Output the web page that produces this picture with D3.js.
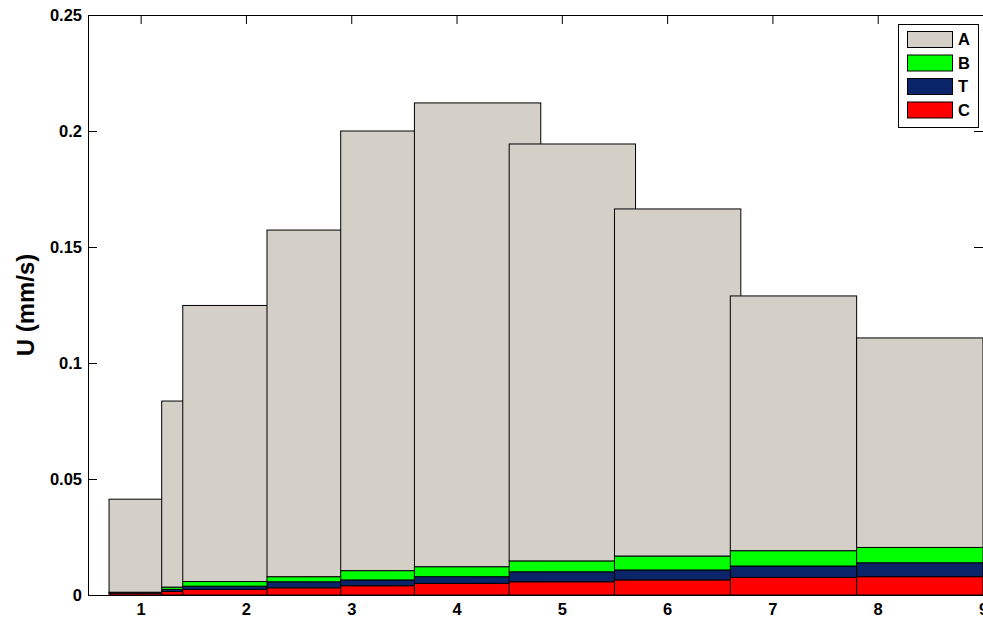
<!DOCTYPE html>
<html>
<head>
<meta charset="utf-8">
<script src="https://cdn.jsdelivr.net/npm/d3@7"></script>
<style>
  body { margin: 0; background: #fff; }
  text { font-family: Arial, "Liberation Sans", sans-serif; font-weight: bold; }
</style>
</head>
<body>
<svg id="chart" width="983" height="619"></svg>
<script>
// bar centres along x (bars are 1.2 wide, so neighbours overlap)
var xPos = [1.3, 1.8, 2.0, 2.8, 3.5, 4.2, 5.1, 6.1, 7.2, 8.4];
var barWidth = 1.2;

// stacked segments, bottom to top
var C = [0.0008, 0.0015, 0.0024, 0.0031, 0.0040, 0.0050, 0.0057, 0.0065, 0.0076, 0.0079];
var T = [0.0002, 0.0009, 0.0014, 0.0026, 0.0025, 0.0029, 0.0043, 0.0043, 0.0049, 0.0060];
var B = [0.0002, 0.0010, 0.0020, 0.0022, 0.0040, 0.0043, 0.0047, 0.0060, 0.0066, 0.0066];
var A = [0.0401, 0.0802, 0.1190, 0.1494, 0.1895, 0.1999, 0.1797, 0.1496, 0.1098, 0.0903];

var stackOrder = ["C", "T", "B", "A"];
var legendOrder = ["A", "B", "T", "C"];
var colours = {A: "#d4d0c8", B: "#00ff00", T: "#0a246a", C: "#ff0000"};

var xTicks = [1, 2, 3, 4, 5, 6, 7, 8, 9];
var yTicks = [0, 0.05, 0.1, 0.15, 0.2, 0.25];
var yLabels = ["0", "0.05", "0.1", "0.15", "0.2", "0.25"];

function drawChart() {
  var svg = d3.select("#chart"),
      pLeft = 88, pRight = 983, pTop = 15, pBottom = 595;

  var x = d3.scaleLinear().domain([0.5, 9]).range([pLeft, pRight]),
      y = d3.scaleLinear().domain([0, 0.25]).range([pBottom, pTop]);

  var values = {A: A, B: B, T: T, C: C};
  var rows = xPos.map(function(xp, i) {
    var r = {x: xp};
    stackOrder.forEach(function(k) { r[k] = values[k][i]; });
    return r;
  });
  var stacked = d3.stack().keys(stackOrder)(rows);

  // ticks go under the bars (MATLAB layer = bottom)
  var yAxis = svg.append("g")
      .attr("transform", "translate(" + pLeft + ",0)")
      .call(d3.axisLeft(y).tickValues(yTicks).tickSize(-9).tickPadding(6)
        .tickFormat(function(d, i) { return yLabels[i]; }));
  var yAxisR = svg.append("g")
      .attr("transform", "translate(" + pRight + ",0)")
      .call(d3.axisRight(y).tickValues(yTicks).tickSize(-9).tickFormat(""));
  var xAxis = svg.append("g")
      .attr("transform", "translate(0," + pBottom + ")")
      .call(d3.axisBottom(x).tickValues(xTicks).tickSize(-9).tickPadding(8)
        .tickFormat(d3.format("d")));
  var xAxisT = svg.append("g")
      .attr("transform", "translate(0," + pTop + ")")
      .call(d3.axisTop(x).tickValues(xTicks).tickSize(-9).tickFormat(""));

  [yAxis, yAxisR, xAxis, xAxisT].forEach(function(a) {
    a.select(".domain").remove();
    a.selectAll(".tick line").attr("stroke", "#000");
    a.selectAll(".tick text")
      .attr("fill", "#000")
      .style("font-size", "16.5px")
      .style("font-family", "Arial, 'Liberation Sans', sans-serif");
  });

  // bars drawn group by group so later ones cover earlier ones
  var bars = svg.append("g");
  rows.forEach(function(r, i) {
    var grp = bars.append("g");
    stacked.forEach(function(s) {
      grp.append("rect")
        .attr("x", x(r.x - barWidth / 2))
        .attr("width", x(r.x + barWidth / 2) - x(r.x - barWidth / 2))
        .attr("y", y(s[i][1]))
        .attr("height", y(s[i][0]) - y(s[i][1]))
        .attr("fill", colours[s.key])
        .attr("stroke", "#000")
        .attr("stroke-width", 1);
    });
  });

  // axes box on top
  svg.append("rect")
      .attr("x", pLeft + 0.5).attr("y", pTop + 0.5)
      .attr("width", pRight - pLeft).attr("height", pBottom - pTop)
      .attr("fill", "none").attr("stroke", "#000").attr("stroke-width", 1);

  svg.append("text")
      .attr("transform", "translate(34," + (pTop + pBottom) / 2 + ") rotate(-90)")
      .attr("text-anchor", "middle")
      .style("font-size", "24px")
      .text("U (mm/s)");

  // legend
  var lg = svg.append("g").attr("transform", "translate(898,24)");
  lg.append("rect")
      .attr("x", 0.5).attr("y", 0.5).attr("width", 80).attr("height", 103)
      .attr("fill", "#fff").attr("stroke", "#000");
  var item = lg.selectAll(".item")
      .data(legendOrder)
    .enter().append("g")
      .attr("class", "item")
      .attr("transform", function(d, i) { return "translate(0," + (15.5 + i * 23.5) + ")"; });
  item.append("rect")
      .attr("x", 9.5).attr("y", -8).attr("width", 45).attr("height", 16)
      .attr("fill", function(d) { return colours[d]; })
      .attr("stroke", "#000");
  item.append("text")
      .attr("x", 60).attr("dy", "0.36em")
      .style("font-size", "16.5px")
      .text(function(d) { return d; });
}

drawChart();
</script>
</body>
</html>
